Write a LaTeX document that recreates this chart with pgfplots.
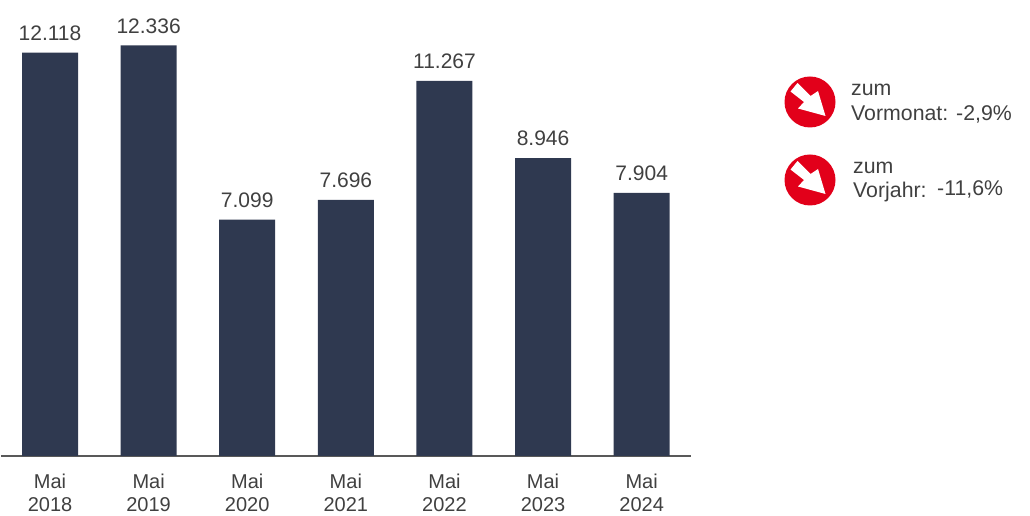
\documentclass[border=0pt]{standalone}
\usepackage{pgfplots}
\pgfplotsset{compat=1.18}
\usepackage{fontspec}
\setmainfont{Liberation Sans}
\definecolor{bar}{HTML}{2F3950}
\definecolor{txt}{HTML}{404040}
\definecolor{axisline}{HTML}{595959}
\definecolor{badge}{HTML}{E2001A}
% badge: red disc with white arrow, centred at #1
\newcommand{\badge}[1]{%
  \begin{scope}[shift={#1},x=1pt,y=-1pt]
    \fill[badge] (0,0) circle (25.5pt);
    \fill[white] (-19.5,-10.5) -- (-12.5,-19) -- (0.5,-6) -- (8,-11) -- (15.5,14) -- (-12,6.5) -- (-6,0) -- cycle;
  \end{scope}}
\begin{document}
\begin{tikzpicture}[x=1pt,y=1pt]
  \path[use as bounding box] (-1,-60) rectangle (1029,456);
  \begin{axis}[
    at={(0pt,0pt)},anchor=south west,
    scale only axis,
    width=690pt,height=456pt,
    xmin=-0.497,xmax=6.5,
    ymin=0,ymax=13700,
    axis y line=none,
    axis x line=bottom,
    axis line style={-,axisline,line width=1.3pt},
    xtick=data,
    xticklabels={{Mai\\2018},{Mai\\2019},{Mai\\2020},{Mai\\2021},{Mai\\2022},{Mai\\2023},{Mai\\2024}},
    xticklabel style={align=center,font=\fontsize{20}{23}\selectfont,text=txt,yshift=-14pt},
    major tick length=0pt,
    clip=false,
    /pgf/number format/assume math mode=true,
    nodes near coords,
    every node near coord/.append style={
      font=\fontsize{21}{24}\selectfont,text=txt,yshift=8.5pt,
      /pgf/number format/1000 sep={.}},
    ]
    \addplot[ybar,bar width=56pt,fill=bar,draw=none] coordinates {
      (0,12118) (1,12336) (2,7099) (3,7696) (4,11267) (5,8946) (6,7904)};
  \end{axis}
  \badge{(809,354)}
  \badge{(809,276)}
  \begin{scope}[every node/.style={anchor=base west,inner sep=0pt,text=txt,font=\fontsize{21.3}{24}\selectfont}]
    \node at (850,360) {zum};
    \node at (850,335) {Vormonat: -2,9\%};
    \node at (852,282) {zum};
    \node at (852,258) {Vorjahr:};
    \node at (936,260) {-11,6\%};
  \end{scope}
\end{tikzpicture}
\end{document}
